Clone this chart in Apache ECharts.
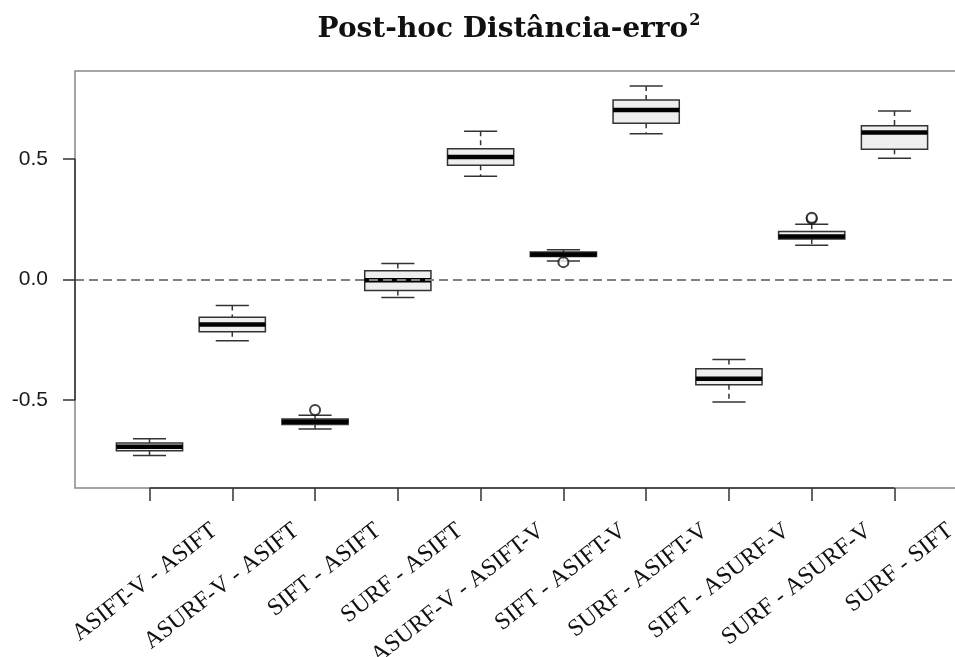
<!DOCTYPE html>
<html>
<head>
<meta charset="utf-8">
<title>Post-hoc Distância-erro²</title>
<script src="https://cdn.jsdelivr.net/npm/echarts@6/dist/echarts.min.js"></script>
<style>
  html, body { margin: 0; padding: 0; background: #ffffff; }
  #chart { width: 955px; height: 657px; }
</style>
</head>
<body>
<div id="chart"></div>
<script>
// Pairwise comparisons (post-hoc) of the squared distance error
const categories = [
  'ASIFT-V - ASIFT', 'ASURF-V - ASIFT', 'SIFT - ASIFT', 'SURF - ASIFT',
  'ASURF-V - ASIFT-V', 'SIFT - ASIFT-V', 'SURF - ASIFT-V',
  'SIFT - ASURF-V', 'SURF - ASURF-V', 'SURF - SIFT'
];
// Five-number summaries per comparison
const whiskerLow  = [-0.729, -0.254, -0.620, -0.075, 0.428, 0.077, 0.604, -0.508, 0.142, 0.502];
const quartile1   = [-0.710, -0.216, -0.601, -0.046, 0.473, 0.095, 0.647, -0.436, 0.168, 0.540];
const medians     = [-0.693, -0.186, -0.589, -0.003, 0.508, 0.104, 0.702, -0.411, 0.178, 0.609];
const quartile3   = [-0.678, -0.156, -0.578,  0.036, 0.542, 0.114, 0.744, -0.370, 0.199, 0.637];
const whiskerHigh = [-0.660, -0.108, -0.563,  0.066, 0.614, 0.123, 0.802, -0.331, 0.229, 0.698];
// Outliers: [comparison index (1-based), value]
const outliers = [[3, -0.541], [6, 0.072], [9, 0.252], [9, 0.256]];
// Axis ticks
const yTicks = [-0.5, 0.0, 0.5];
const xTicks = [1, 2, 3, 4, 5, 6, 7, 8, 9, 10];

const yLim = [-0.864, 0.864];
const xLim = [0.1, 10.9];
// Rotated category names sit on their own, slightly offset scale
const labelLim = [-0.706, 10.226];

const boxData = categories.map((c, i) => [i + 1, whiskerLow[i], quartile1[i], medians[i], quartile3[i], whiskerHigh[i]]);

const edge = '#333333';

function renderBox(params, api) {
  const x = api.value(0);
  const lo = api.coord([x, api.value(1)]);
  const q1 = api.coord([x, api.value(2)]);
  const md = api.coord([x, api.value(3)]);
  const q3 = api.coord([x, api.value(4)]);
  const hi = api.coord([x, api.value(5)]);
  const bw = api.size([0.8, 0])[0];
  const half = bw / 2, cap = bw / 4, cx = md[0];
  const dashed = { stroke: edge, lineWidth: 1.5, lineDash: [5, 4] };
  const solid = { stroke: edge, lineWidth: 1.5 };
  return {
    type: 'group',
    children: [
      { type: 'line', shape: { x1: cx, y1: hi[1], x2: cx, y2: q3[1] }, style: dashed },
      { type: 'line', shape: { x1: cx, y1: q1[1], x2: cx, y2: lo[1] }, style: dashed },
      { type: 'line', shape: { x1: cx - cap, y1: hi[1], x2: cx + cap, y2: hi[1] }, style: solid },
      { type: 'line', shape: { x1: cx - cap, y1: lo[1], x2: cx + cap, y2: lo[1] }, style: solid },
      { type: 'rect', shape: { x: cx - half, y: q3[1], width: bw, height: q1[1] - q3[1] },
        style: { fill: '#eeeeee', stroke: edge, lineWidth: 1.5 } },
      { type: 'line', shape: { x1: cx - half, y1: md[1], x2: cx + half, y2: md[1] },
        style: { stroke: '#000000', lineWidth: 4.5 } }
    ]
  };
}

const chart = echarts.init(document.getElementById('chart'), null, { renderer: 'canvas' });

chart.setOption({
  animation: false,
  backgroundColor: '#ffffff',
  title: {
    text: '{t|Post-hoc Distância-erro}{s|2}',
    left: 504,
    textAlign: 'center',
    top: 8,
    textStyle: {
      rich: {
        t: { fontFamily: 'DejaVu Serif', fontWeight: 'bold', fontSize: 28, color: '#111111', lineHeight: 34 },
        s: { fontFamily: 'DejaVu Serif', fontSize: 16, color: '#111111', verticalAlign: 'top', lineHeight: 34, padding: [0, 0, 14, 1] }
      }
    }
  },
  grid: {
    left: 75, top: 71, right: -14, bottom: 169,
    outerBoundsMode: 'none',
    containLabel: false,
    show: true, borderColor: '#888888', borderWidth: 1.5, backgroundColor: 'transparent'
  },
  xAxis: [
    {
      type: 'value', min: xLim[0], max: xLim[1],
      axisLine: { show: false, onZero: false },
      splitLine: { show: false },
      axisTick: { show: true, customValues: xTicks, length: 13, lineStyle: { color: edge, width: 1.5 } },
      axisLabel: { show: false }
    },
    {
      type: 'value', position: 'bottom',
      min: labelLim[0], max: labelLim[1],
      axisLine: { show: false, onZero: false },
      splitLine: { show: false },
      axisTick: { show: false },
      axisLabel: {
        show: true, customValues: xTicks, rotate: 38, margin: 40,
        formatter: v => categories[Math.round(v) - 1] || '',
        fontFamily: 'Liberation Serif', fontSize: 24, color: '#111111'
      }
    }
  ],
  yAxis: {
    type: 'value', min: yLim[0], max: yLim[1],
    axisLine: { show: false, onZero: false },
    splitLine: { show: false },
    axisTick: { show: true, customValues: yTicks, length: 12, lineStyle: { color: edge, width: 1.5 } },
    axisLabel: {
      show: true, customValues: yTicks, margin: 27,
      formatter: v => v.toFixed(1),
      fontFamily: 'Liberation Sans', fontSize: 21, color: '#1a1a1a'
    }
  },
  series: [
    {
      name: 'reference lines',
      type: 'line',
      data: [],
      markLine: {
        silent: true,
        symbol: 'none',
        label: { show: false },
        data: [
          { yAxis: 0, lineStyle: { color: '#808080', width: 2, type: [9, 5] } },
          [{ coord: [xTicks[0], yLim[0]], lineStyle: { color: edge, width: 1.5, type: 'solid' } },
           { coord: [xTicks[xTicks.length - 1], yLim[0]] }],
          [{ coord: [xLim[0], yTicks[0]], lineStyle: { color: edge, width: 1.5, type: 'solid' } },
           { coord: [xLim[0], yTicks[yTicks.length - 1]] }]
        ]
      }
    },
    {
      name: 'boxes',
      type: 'custom',
      renderItem: renderBox,
      encode: { x: 0, y: [1, 2, 3, 4, 5] },
      data: boxData,
      z: 3
    },
    {
      name: 'outliers',
      type: 'scatter',
      symbol: 'emptyCircle',
      symbolSize: 10,
      itemStyle: { color: '#111111', borderWidth: 1.5 },
      data: outliers,
      z: 4
    }
  ]
});
</script>
</body>
</html>
